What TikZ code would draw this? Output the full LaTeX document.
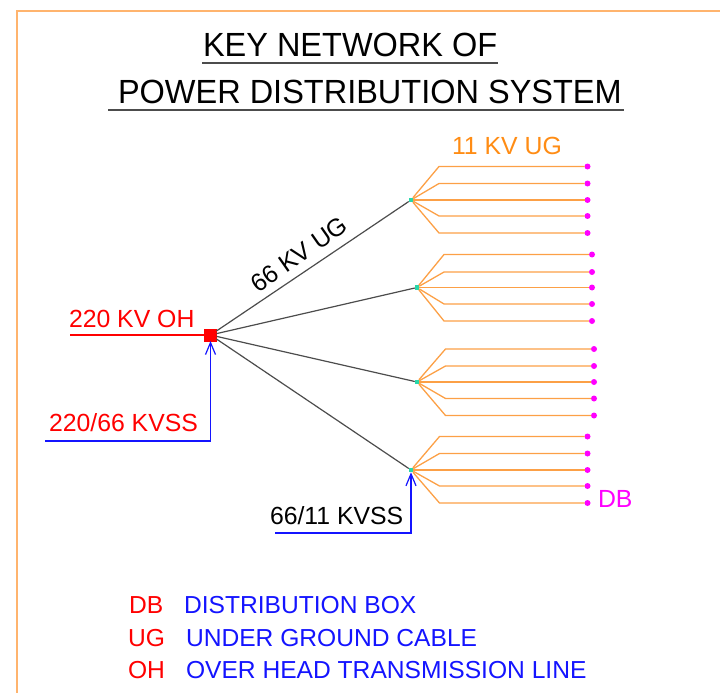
\documentclass[tikz,border=0pt]{standalone}
\usepackage{fontspec}
\setmainfont{Liberation Sans}
\newfontfamily\ttlfont[FakeStretch=0.97]{Liberation Sans}
\usetikzlibrary{arrows.meta}
\definecolor{pOrange}{RGB}{252,160,70}
\definecolor{pEdge}{RGB}{255,180,110}
\definecolor{pText}{RGB}{255,140,20}
\definecolor{pRed}{RGB}{255,0,0}
\definecolor{pBlue}{RGB}{20,20,255}
\definecolor{pMag}{RGB}{255,0,255}
\definecolor{pHub}{RGB}{40,215,170}
\definecolor{pGray}{gray}{0.3}
\tikzset{
    lbl/.style={anchor=base west, inner sep=0pt, outer sep=0pt, font=\fontsize{24.8}{24.8}\selectfont},
    kee/.style={anchor=base west, inner sep=0pt, outer sep=0pt, font=\fontsize{24.6}{24.6}\selectfont},
    ttl/.style={anchor=base west, inner sep=0pt, outer sep=0pt, font=\ttlfont\fontsize{33.5}{33.5}\selectfont},
    sub/.style={rectangle, draw=pRed, fill=pRed, inner sep=0pt, outer sep=0pt, minimum size=12pt},
    hub/.style={rectangle, fill=pHub, inner sep=0pt, outer sep=0pt, minimum size=4.5pt},
    dbox/.style={circle, fill=pMag, inner sep=0pt, outer sep=0pt, minimum size=6pt},
    feed/.style={draw=pOrange, line width=1.3pt},
    trunk/.style={draw=pGray, line width=1.2pt},
    ssln/.style={draw=pBlue, line width=1.2pt, -{Straight Barb[length=12pt,width=10pt]}}
}
\begin{document}
\begin{tikzpicture}[x=1pt,y=-1pt]
\useasboundingbox (0,0) rectangle (720,693);
\draw[pEdge,line width=1.2pt] (17,693)--(17,11)--(720,11);
\node[ttl] (t1) at (203,57) {KEY NETWORK OF};
\node[ttl] (t2) at (118,103) {POWER DISTRIBUTION SYSTEM};
\coordinate (u1a) at (202,63);
\coordinate (u1b) at (498,63);
\coordinate (u2a) at (108,110);
\coordinate (u2b) at (624,110);
\draw[pGray,line width=1.2pt] (u1a)--(u1b);
\draw[pGray,line width=1.2pt] (u2a)--(u2b);
\node[sub] (sub220) at (210.5,335) {};
\node[hub] (h1) at (411,200) {};
\node[hub] (h2) at (417,287.5) {};
\node[hub] (h3) at (417,382) {};
\node[hub] (h4) at (411,470) {};
\draw[trunk] (sub220)--(h1);
\draw[trunk] (sub220)--(h2);
\draw[trunk] (sub220)--(h3);
\draw[trunk] (sub220)--(h4);
\node[dbox] (d11) at (587.5,166.5) {};
\node[dbox] (d12) at (587.5,183.5) {};
\node[dbox] (d13) at (587.5,200) {};
\node[dbox] (d14) at (587.5,216) {};
\node[dbox] (d15) at (587.5,233) {};
\node[dbox] (d21) at (592,254.5) {};
\node[dbox] (d22) at (592,272) {};
\node[dbox] (d23) at (592,287.5) {};
\node[dbox] (d24) at (592,304) {};
\node[dbox] (d25) at (592,321) {};
\node[dbox] (d31) at (594,349) {};
\node[dbox] (d32) at (594,366) {};
\node[dbox] (d33) at (594,382) {};
\node[dbox] (d34) at (594,398.5) {};
\node[dbox] (d35) at (594,415.5) {};
\node[dbox] (d41) at (587.5,436.5) {};
\node[dbox] (d42) at (587.5,453.5) {};
\node[dbox] (d43) at (587.5,470) {};
\node[dbox] (d44) at (587.5,486) {};
\node[dbox] (d45) at (587.5,503) {};
\draw[feed] (h1)--(439,166.5)--(d11);
\draw[feed] (h1)--(439,183.5)--(d12);
\draw[feed] (h1)--(d13);
\draw[feed] (h1)--(439,216)--(d14);
\draw[feed] (h1)--(439,233)--(d15);
\draw[feed] (h2)--(444,254.5)--(d21);
\draw[feed] (h2)--(444,272)--(d22);
\draw[feed] (h2)--(d23);
\draw[feed] (h2)--(444,304)--(d24);
\draw[feed] (h2)--(444,321)--(d25);
\draw[feed] (h3)--(445.5,349)--(d31);
\draw[feed] (h3)--(445.5,366)--(d32);
\draw[feed] (h3)--(d33);
\draw[feed] (h3)--(445.5,398.5)--(d34);
\draw[feed] (h3)--(445.5,415.5)--(d35);
\draw[feed] (h4)--(439.5,436.5)--(d41);
\draw[feed] (h4)--(439.5,453.5)--(d42);
\draw[feed] (h4)--(d43);
\draw[feed] (h4)--(439.5,486)--(d44);
\draw[feed] (h4)--(439.5,503)--(d45);
\coordinate (oh) at (70,335);
\coordinate (ss220) at (45,441);
\coordinate (ss66) at (275,533);
\draw[pRed,line width=1.2pt] (oh)--(sub220);
\draw[ssln] (ss220)-|(sub220);
\draw[ssln] (ss66)-|(h4);
\node[lbl,text=pRed] (l220) at (69,327.5) {220 KV OH};
\node[lbl,text=pRed] (lss220) at (49,431.5) {220/66 KVSS};
\node[lbl] (lss66) at (270,524.5) {66/11 KVSS};
\node[lbl,text=pText] (l11) at (452,154.5) {11 KV UG};
\node[lbl,text=pMag] (ldb) at (598,507.5) {DB};
\node[lbl,anchor=center,rotate=35] (l66) at (299,254.5) {66 KV UG};
\node[kee,text=pRed] (kdb) at (129,613) {DB};
\node[kee,text=pBlue] (kdbt) at (184,613) {DISTRIBUTION BOX};
\node[kee,text=pRed] (kug) at (128,646) {UG};
\node[kee,text=pBlue] (kugt) at (186,646) {UNDER GROUND CABLE};
\node[kee,text=pRed] (koh) at (128,678) {OH};
\node[kee,text=pBlue] (koht) at (186,678) {OVER HEAD TRANSMISSION LINE};
\end{tikzpicture}
\end{document}
